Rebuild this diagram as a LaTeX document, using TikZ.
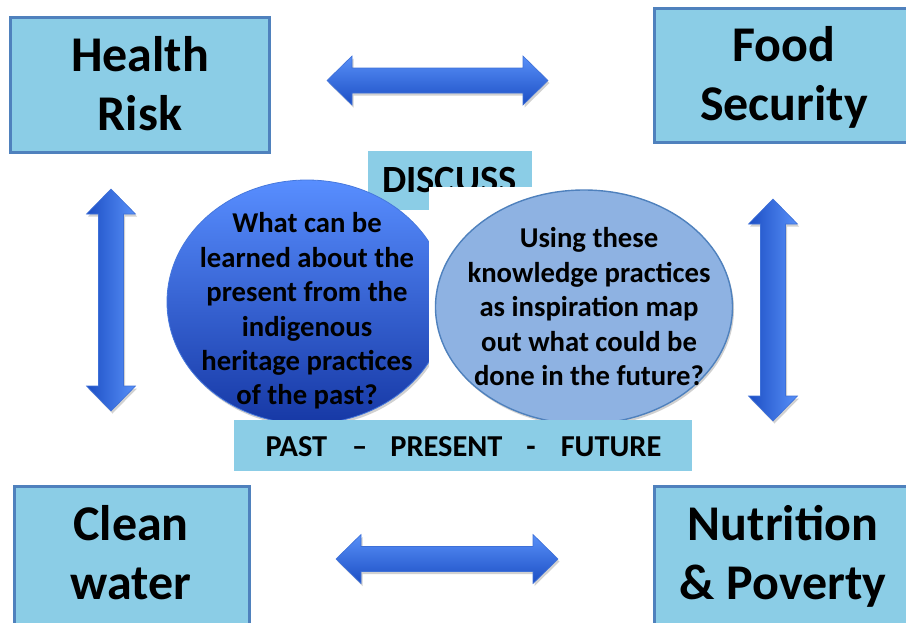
\documentclass[tikz,border=0pt]{standalone}
\usepackage{fontspec}
\setmainfont{Carlito}
\usetikzlibrary{shapes.geometric,shadows}

\definecolor{boxfill}{RGB}{139,205,230}
\definecolor{boxline}{RGB}{79,129,189}
\definecolor{arrowlight}{RGB}{88,144,248}
\definecolor{arrowdark}{RGB}{28,78,196}
\definecolor{arrowedge}{RGB}{62,112,215}
\definecolor{pasttop}{RGB}{88,142,255}
\definecolor{pastbottom}{RGB}{22,56,165}
\definecolor{pastedge}{RGB}{70,120,220}
\definecolor{futurefill}{RGB}{142,178,226}
\definecolor{futureline}{RGB}{79,129,189}

\tikzset{
  topic/.style={draw=boxline, line width=3pt, fill=boxfill, rectangle, inner sep=0pt},
  topictext/.style={font=\bfseries\fontsize{50}{59}\selectfont, align=center, inner sep=0pt},
  banner/.style={fill=boxfill, rectangle, inner sep=0pt},
  bannertext/.style={inner sep=0pt, anchor=base},
  question/.style={font=\bfseries\fontsize{28.7}{34.4}\selectfont, align=center, inner sep=0pt},
  softshadow/.style={drop shadow={shadow xshift=1.5pt, shadow yshift=-2.5pt, opacity=0.3, fill=black!60}},
  blockarrow/.style={draw=arrowedge, line width=0.6pt, softshadow},
}

% horizontal double block arrow: left tip x, right tip x, centre y
\newcommand\hblockarrow[3]{%
  \path[blockarrow, top color=arrowlight, bottom color=arrowdark]
    (#1,#3) -- (#1+25,#3-24.5) -- (#1+25,#3-12.5) -- (#2-25,#3-12.5)
    -- (#2-25,#3-24.5) -- (#2,#3) -- (#2-25,#3+24.5) -- (#2-25,#3+12.5)
    -- (#1+25,#3+12.5) -- (#1+25,#3+24.5) -- cycle;}
% vertical double block arrow: top tip y, bottom tip y, centre x
\newcommand\vblockarrow[3]{%
  \path[blockarrow, left color=arrowdark, right color=arrowlight]
    (#3,#1) -- (#3+24.5,#1+25) -- (#3+12.5,#1+25) -- (#3+12.5,#2-25)
    -- (#3+24.5,#2-25) -- (#3,#2) -- (#3-24.5,#2-25) -- (#3-12.5,#2-25)
    -- (#3-12.5,#1+25) -- (#3-24.5,#1+25) -- cycle;}

\begin{document}
\begin{tikzpicture}[x=1pt,y=-1pt]
\useasboundingbox (0,0) rectangle (906,622);
\clip (0,0) rectangle (906,622);

% the four topic boxes
\node[topic, minimum width=259pt, minimum height=135pt] (health) at (140,85) {};
\node[topic, minimum width=259pt, minimum height=134pt] (food) at (784,75.5) {};
\node[topic, minimum width=235pt, minimum height=141.5pt] (water) at (132,557.25) {};
\node[topic, minimum width=257.5pt, minimum height=141.5pt] (nutrition) at (783.25,557.25) {};

\node[topictext] (healthtxt) at (140,88.7) {\strut Health\\\strut Risk};
\node[topictext] (foodtxt) at (784,79.2) {\strut Food\\\strut Security};
\node[topictext] (watertxt) at (131,557.7) {\strut Clean\\\strut water};
\node[topictext] (nutritiontxt) at (783,557.7) {\strut Nutrition\\\strut \& Poverty};

% double block arrows between the topics
\hblockarrow{327}{548}{80.5}
\hblockarrow{336}{558}{559}
\vblockarrow{189}{411}{111}
\vblockarrow{199}{421}{773}

% discussion heading
\node[banner, minimum width=164pt, minimum height=59pt] (discuss) at (450,180.5) {};
\node[bannertext, font=\bfseries\fontsize{38.5}{44}\selectfont] (discusstxt) at (449.5,192) {DISCUSS};

% past: shaded ellipse
\node[ellipse, minimum width=280pt, minimum height=244pt, inner sep=0pt,
      top color=pasttop, bottom color=pastbottom, draw=pastedge, line width=0.8pt,
      softshadow] (past) at (307,302) {};
\node[question] (pasttxt) at (307,312.1)
  {\strut What can be\\learned about the\\present from the\\indigenous\\heritage practices\\\strut of the past?};

% white panel behind the future ellipse
\fill[white] (429,187) rectangle (740,430);

% future: flat ellipse
\node[ellipse, minimum width=297pt, minimum height=234pt, inner sep=0pt,
      fill=futurefill, draw=futureline, line width=1.4pt, softshadow] (future) at (584,307) {};
\node[question] (futuretxt) at (589,309.9)
  {\strut Using these\\knowledge practices\\as inspiration map\\out what could be\\\strut done in the future?};

% time line banner
\node[banner, minimum width=458pt, minimum height=51pt] (timeline) at (463,445.5) {};
\node[bannertext, font=\bfseries\fontsize{30.4}{36}\selectfont] (timelinetxt) at (463.5,456)
  {PAST\hspace{25pt}–\hspace{23pt}PRESENT\hspace{24pt}-\hspace{25pt}FUTURE};
\end{tikzpicture}
\end{document}
